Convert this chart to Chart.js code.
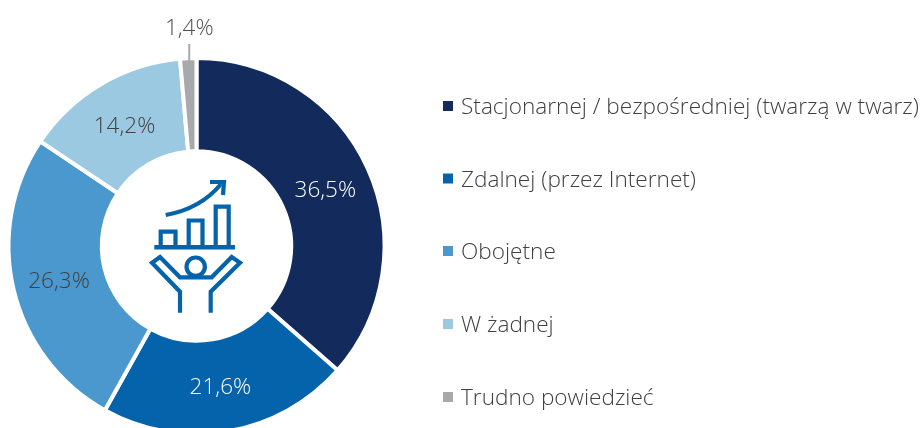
<!DOCTYPE html>
<html lang="pl">
<head>
<meta charset="utf-8">
<title>Wykres</title>
<script src="https://cdn.jsdelivr.net/npm/chart.js@4"></script>
<style>
    html, body { margin: 0; padding: 0; background: #fff; overflow: hidden; }
    #wrap { position: relative; width: 923px; height: 428px; overflow: hidden; }
    #box { position: absolute; left: 0; top: 0; width: 923px; height: 492px; }
    #icon { position: absolute; left: 0; top: 0; pointer-events: none; }
</style>
</head>
<body>
<div id="wrap">
    <div id="box"><canvas id="chart"></canvas></div>
    <!-- icon in the middle of the ring -->
    <svg id="icon" width="923" height="428" fill="none" stroke="#0563ab" stroke-width="4.2">
        <path d="M165.7 215 C188 211 207 201 221 184" stroke-width="4.2"/>
        <path d="M210 182 L224 182 L223 195" stroke-width="4.2"/>
        <path d="M160.7 245 V231.7 H175.5 V245 M188.7 245 V220.5 H202.5 V245 M215.7 245 V206.7 H228.7 V245"/>
        <path d="M154.3 247.3 H235" stroke-width="4.4"/>
        <circle cx="195.7" cy="266.7" r="9.2"/>
        <path d="M180 312.7 V291.7 L152 262.7 L160 257 L180 277.3 H211.7 L231.7 257 L240 262.7 L210.7 291.7 V312.7"/>
    </svg>
</div>
<script>
    const categories = ['Stacjonarnej / bezpośredniej (twarzą w twarz)', 'Zdalnej (przez Internet)', 'Obojętne', 'W żadnej', 'Trudno powiedzieć'];
    const values = [36.5, 21.6, 26.3, 14.2, 1.4];
    const colors = ['#122b5c', '#0563ab', '#4a98cd', '#9bc9e1', '#a7a9ac'];
    const labelColors = ['#ffffff', '#ffffff', '#404040', '#404040', '#505050'];

    const textFont = '300 22.6px "Open Sans"';
    const labelFont = '300 22.5px "Open Sans"';

    // slice labels, the small slice gets its label outside with a line
    const sliceLabels = {
        id: 'sliceLabels',
        afterDatasetsDraw(chart) {
            const c = chart.ctx;
            const arcs = chart.getDatasetMeta(0).data;
            c.save();
            c.font = labelFont;
            c.textAlign = 'center';
            c.textBaseline = 'middle';
            arcs.forEach((arc, i) => {
                const text = values[i].toFixed(1).replace('.', ',') + '%';
                let pos = arc.tooltipPosition();
                if (values[i] < 5) {
                    const mid = (arc.startAngle + arc.endAngle) / 2;
                    const lineX = arc.x + Math.cos(mid) * arc.outerRadius;
                    c.strokeStyle = colors[i];
                    c.lineWidth = 2;
                    c.beginPath();
                    c.moveTo(lineX + 1, 44);
                    c.lineTo(lineX + 1, 64);
                    c.stroke();
                    pos = { x: lineX + 1, y: 26 };
                }
                c.fillStyle = labelColors[i];
                c.fillText(text, pos.x, pos.y + 2.5);
            });
            c.restore();
        }
    };

    // legend on the right side
    const sideLegend = {
        id: 'sideLegend',
        afterDraw(chart) {
            const c = chart.ctx;
            const rows = [106, 178.5, 251, 324, 397];
            c.save();
            c.font = textFont;
            c.textAlign = 'left';
            c.textBaseline = 'middle';
            categories.forEach((name, i) => {
                c.fillStyle = colors[i];
                c.fillRect(443, rows[i] - 5, 10, 10);
                c.fillStyle = '#404040';
                c.fillText(name, 461, rows[i] + 2);
            });
            c.restore();
        }
    };

    new Chart(document.getElementById('chart').getContext('2d'), {
        type: 'doughnut',
        data: {
            labels: categories,
            datasets: [{
                data: values,
                backgroundColor: colors,
                borderColor: '#ffffff',
                borderWidth: 4
            }]
        },
        options: {
            responsive: true,
            maintainAspectRatio: false,
            animation: false,
            radius: 188,
            cutout: 98,
            layout: { padding: { right: 530 } },
            plugins: { legend: { display: false }, tooltip: { enabled: false } }
        },
        plugins: [sliceLabels, sideLegend]
    });
</script>
</body>
</html>
